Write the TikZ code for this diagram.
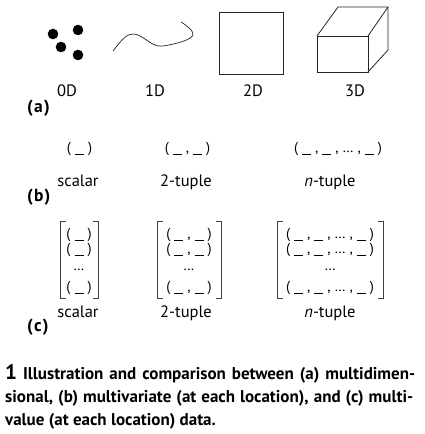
\documentclass[tikz,border=0pt]{standalone}
\usepackage{fontspec}
\setmainfont{PT Sans}
\newcommand\us{\rule[-1.8pt]{9pt}{0.75pt}}
\newcommand\gp{\hspace{4pt}}
\newcommand\tupA{(\gp\us\gp)}
\newcommand\tupB{(\gp\us\gp,\gp\us\gp)}
\newcommand\tupN{(\gp\us\gp,\gp\us\gp,\gp…\gp,\gp\us\gp)}
\newcommand\plab[1]{(\kern1.2pt#1\kern1.2pt)}
\begin{document}
\begin{tikzpicture}[x=1pt,y=-1pt,
  lbl/.style={inner sep=0pt,anchor=base,font=\fontsize{16.5}{18}\selectfont},
  tup/.style={inner sep=0pt,anchor=center,font=\fontsize{14.5}{16}\selectfont},
  part/.style={inner sep=0pt,anchor=base west,font=\bfseries\fontsize{17.5}{18}\selectfont},
  captext/.style={inner sep=0pt,anchor=base west,font=\bfseries\fontsize{17}{19}\selectfont},
  figline/.style={draw=black!85,line width=0.8pt},
  brk/.style={draw=black!75,line width=0.8pt}]
\useasboundingbox (0,0) rectangle (424,434);
% (a) shapes
\fill[black] (53,34) circle[radius=5.3pt] (78,30) circle[radius=5.3pt] (61,47) circle[radius=5.3pt] (78,55) circle[radius=5.3pt];
\draw[figline,line width=0.7pt] (113,51) .. controls (122,39) and (128,33) .. (134,34)
   .. controls (144,35) and (152,48) .. (163,46)
   .. controls (176,44) and (191,40) .. (193,35)
   .. controls (194,31) and (186,25) .. (181,22);
\draw[figline] (219,12) rectangle (283,74);
\draw[figline] (317,36) rectangle (368,72);
\draw[figline] (317,36) -- (338,7) -- (388,7) -- (368,36);
\draw[figline] (388,7) -- (388,50) -- (368,72);
\node[lbl] (l0) at (67,96) {0D};
\node[lbl] (l1) at (155,96) {1D};
\node[lbl] (l2) at (253,96) {2D};
\node[lbl] (l3) at (355,96) {3D};
\node[part] (pa) at (27,112) {\plab{a}};
% (b)
\node[tup] (b1) at (79.5,149) {\tupA};
\node[tup] (b2) at (187.5,149) {\tupB};
\node[tup] (b3) at (338,149) {\tupN};
\node[lbl] (bs) at (78,186) {scalar};
\node[lbl] (b2t) at (186,186) {2-tuple};
\node[lbl] (bnt) at (330,186) {\textit{n}-tuple};
\node[part] (pb) at (27,201) {\plab{b}};
% (c)
\foreach \cx/\xl/\xr/\txt in {79/60/98/\tupA, 189/157/221/\tupB, 330/277/383/\tupN}{
  \draw[brk] (\xl+5.5,221) -- (\xl,221) -- (\xl,298) -- (\xl+5.5,298);
  \draw[brk] (\xr-5.5,221) -- (\xr,221) -- (\xr,298) -- (\xr-5.5,298);
  \node[tup] at (\cx,235) {\txt};
  \node[tup] at (\cx,250) {\txt};
  \node[tup] at (\cx,270) {…};
  \node[tup] at (\cx,288) {\txt};
}
\node[lbl] (cs) at (78,317) {scalar};
\node[lbl] (c2t) at (186,317) {2-tuple};
\node[lbl] (cnt) at (330,317) {\textit{n}-tuple};
\node[part] (pc) at (27,331) {\plab{c}};
% caption
\node[captext] (cap1) at (5,379) {\hbox to 410pt{{\fontsize{21}{21}\selectfont 1}\hspace{6pt}Illustration and comparison between (a) multidimen-}};
\node[captext] (cap2) at (5,402) {\hbox to 408pt{sional, (b) multivariate (at each location), and (c) multi-}};
\node[captext] (cap3) at (5,425) {value (at each location) data.};
\end{tikzpicture}
\end{document}
